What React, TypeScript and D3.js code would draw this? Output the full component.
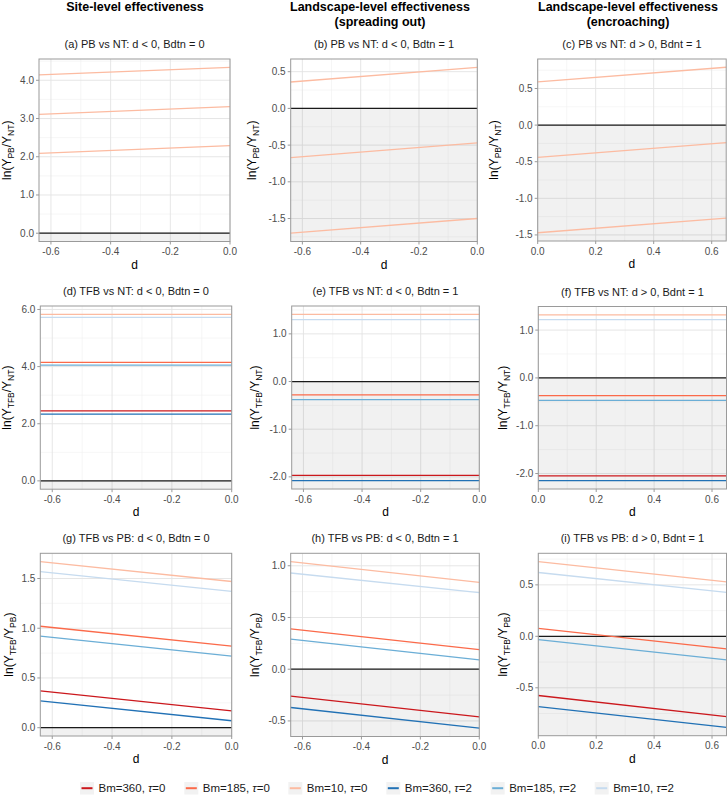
import React from "react";
import * as d3 from "d3";

// legend series (Bm, tau)
const seriesNames = ["Bm=360", "Bm=185", "Bm=10", "Bm=360", "Bm=185", "Bm=10"];
const seriesTau = ["0", "0", "0", "2", "2", "2"];
const seriesColors = ["#CB181D", "#FB6A4A", "#FCBBA1", "#2171B5", "#6BAED6", "#C6DBEF"];

// d ranges
const dNeg = [-0.64, 0];
const dPos = [0, 0.65];
const dNegTicks = [-0.6, -0.4, -0.2, 0];
const dPosTicks = [0, 0.2, 0.4, 0.6];

// each line: series index, value at left end of d, value at right end of d
const panelA = [
  { s: 2, y0: 2.09, y1: 2.29 },
  { s: 2, y0: 3.11, y1: 3.31 },
  { s: 2, y0: 4.14, y1: 4.34 },
];
const panelB = [
  { s: 2, y0: -1.7, y1: -1.5 },
  { s: 2, y0: -0.67, y1: -0.47 },
  { s: 2, y0: 0.36, y1: 0.56 },
];
const panelC = [
  { s: 2, y0: -1.47, y1: -1.27 },
  { s: 2, y0: -0.44, y1: -0.24 },
  { s: 2, y0: 0.59, y1: 0.79 },
];
const panelD = [
  { s: 0, y0: 2.45, y1: 2.45 },
  { s: 1, y0: 4.15, y1: 4.15 },
  { s: 2, y0: 5.83, y1: 5.83 },
  { s: 3, y0: 2.34, y1: 2.34 },
  { s: 4, y0: 4.05, y1: 4.05 },
  { s: 5, y0: 5.72, y1: 5.72 },
];
const panelE = [
  { s: 0, y0: -1.97, y1: -1.97 },
  { s: 1, y0: -0.28, y1: -0.28 },
  { s: 2, y0: 1.41, y1: 1.41 },
  { s: 3, y0: -2.08, y1: -2.08 },
  { s: 4, y0: -0.38, y1: -0.38 },
  { s: 5, y0: 1.3, y1: 1.3 },
];
const panelF = [
  { s: 0, y0: -2.05, y1: -2.05 },
  { s: 1, y0: -0.37, y1: -0.37 },
  { s: 2, y0: 1.32, y1: 1.32 },
  { s: 3, y0: -2.15, y1: -2.15 },
  { s: 4, y0: -0.47, y1: -0.47 },
  { s: 5, y0: 1.22, y1: 1.22 },
];
const panelG = [
  { s: 0, y0: 0.37, y1: 0.17 },
  { s: 1, y0: 1.02, y1: 0.82 },
  { s: 2, y0: 1.67, y1: 1.47 },
  { s: 3, y0: 0.27, y1: 0.07 },
  { s: 4, y0: 0.92, y1: 0.72 },
  { s: 5, y0: 1.57, y1: 1.37 },
];
const panelH = [
  { s: 0, y0: -0.26, y1: -0.46 },
  { s: 1, y0: 0.39, y1: 0.19 },
  { s: 2, y0: 1.04, y1: 0.84 },
  { s: 3, y0: -0.37, y1: -0.57 },
  { s: 4, y0: 0.29, y1: 0.09 },
  { s: 5, y0: 0.93, y1: 0.74 },
];
const panelI = [
  { s: 0, y0: -0.575, y1: -0.78 },
  { s: 1, y0: 0.077, y1: -0.123 },
  { s: 2, y0: 0.726, y1: 0.529 },
  { s: 3, y0: -0.684, y1: -0.885 },
  { s: 4, y0: -0.032, y1: -0.229 },
  { s: 5, y0: 0.62, y1: 0.426 },
];

const colTitles = [["Site-level effectiveness"], ["Landscape-level effectiveness", "(spreading out)"], ["Landscape-level effectiveness", "(encroaching)"]];
const colTitleX = [135, 380, 628];

const font = "'Liberation Sans', Arial, sans-serif";

type Line = { s: number; y0: number; y1: number };
type Panel = {
  title: string;
  lines: Line[];
  d: number[];
  dTicks: number[];
  yTicks: number[];
  yNum: string;
  yDen: string;
  box: number[]; // left, top, right, bottom
  titleX: number;
};

const panels: Panel[] = [
  { title: "(a) PB vs NT: d < 0, Bdtn = 0", lines: panelA, d: dNeg, dTicks: dNegTicks, yTicks: [0, 1, 2, 3, 4], yNum: "PB", yDen: "NT", box: [39, 59, 230, 241.5], titleX: 7 },
  { title: "(b) PB vs NT: d < 0, Bdtn = 1", lines: panelB, d: dNeg, dTicks: dNegTicks, yTicks: [-1.5, -1, -0.5, 0, 0.5], yNum: "PB", yDen: "NT", box: [290.7, 59, 477.3, 241.5], titleX: 252 },
  { title: "(c) PB vs NT: d > 0, Bdnt = 1", lines: panelC, d: dPos, dTicks: dPosTicks, yTicks: [-1.5, -1, -0.5, 0, 0.5], yNum: "PB", yDen: "NT", box: [537.7, 59, 726.2, 241], titleX: 494 },
  { title: "(d) TFB vs NT: d < 0, Bdtn = 0", lines: panelD, d: dNeg, dTicks: dNegTicks, yTicks: [0, 2, 4, 6], yNum: "TFB", yDen: "NT", box: [40.3, 306, 231.7, 489.2], titleX: 7 },
  { title: "(e) TFB vs NT: d < 0, Bdtn = 1", lines: panelE, d: dNeg, dTicks: dNegTicks, yTicks: [-2, -1, 0, 1], yNum: "TFB", yDen: "NT", box: [291.7, 306, 479.3, 489], titleX: 255 },
  { title: "(f) TFB vs NT: d > 0, Bdnt = 1", lines: panelF, d: dPos, dTicks: dPosTicks, yTicks: [-2, -1, 0, 1], yNum: "TFB", yDen: "NT", box: [538.3, 306.5, 726.5, 489], titleX: 503 },
  { title: "(g) TFB vs PB: d < 0, Bdtn = 0", lines: panelG, d: dNeg, dTicks: dNegTicks, yTicks: [0, 0.5, 1, 1.5], yNum: "TFB", yDen: "PB", box: [40.3, 553.3, 231.7, 736], titleX: 8.5 },
  { title: "(h) TFB vs PB: d < 0, Bdtn = 1", lines: panelH, d: dNeg, dTicks: dNegTicks, yTicks: [-0.5, 0, 0.5, 1], yNum: "TFB", yDen: "PB", box: [290.7, 553.3, 479.3, 736.5], titleX: 255 },
  { title: "(i) TFB vs PB: d > 0, Bdnt = 1", lines: panelI, d: dPos, dTicks: dPosTicks, yTicks: [-0.5, 0, 0.5], yNum: "TFB", yDen: "PB", box: [538.3, 553.3, 726.5, 735.7], titleX: 503 },
];

const legendX = [80, 184.3, 288.3, 386.3, 490.7, 594.7];

const fmt = d3.format(".1f");
const fmtTick = (v: number) => fmt(v).replace("−", "-");

function minorBetween(ticks: number[], lo: number, hi: number) {
  const step = ticks[1] - ticks[0];
  const out: number[] = [];
  for (let i = -1; i < ticks.length; i++) {
    const v = ticks[0] + step * i + step / 2;
    if (v > lo && v < hi) out.push(v);
  }
  return out;
}

function PanelView({ p }: { p: Panel }) {
  const [left, top, right, bottom] = p.box;
  const ys = p.lines.flatMap((l) => [l.y0, l.y1]).concat([0]);
  const [lo, hi] = d3.extent(ys) as [number, number];
  const pad = (hi - lo) * 0.05;
  const x = d3.scaleLinear().domain(p.d).range([left, right]);
  const y = d3.scaleLinear().domain([lo - pad, hi + pad]).range([bottom, top]);
  const [yLo, yHi] = y.domain();
  const xMinor = minorBetween(p.dTicks, p.d[0], p.d[1]);
  const yMinor = minorBetween(p.yTicks, yLo, yHi);
  const line = d3
    .line<[number, number]>()
    .x((d) => x(d[0]))
    .y((d) => y(d[1]));
  const cy = (top + bottom) / 2;
  return (
    <g>
      <text x={(left + right) / 2} y={top - 11} textAnchor="middle" fontSize={11} fill="#1a1a1a">
        {p.title}
      </text>
      {/* grid */}
      {xMinor.map((v) => (
        <line key={"xm" + v} x1={x(v)} x2={x(v)} y1={top} y2={bottom} stroke="#F0F0F0" strokeWidth={0.6} />
      ))}
      {yMinor.map((v) => (
        <line key={"ym" + v} x1={left} x2={right} y1={y(v)} y2={y(v)} stroke="#F0F0F0" strokeWidth={0.6} />
      ))}
      {p.dTicks.map((v) => (
        <line key={"xg" + v} x1={x(v)} x2={x(v)} y1={top} y2={bottom} stroke="#E3E3E3" strokeWidth={0.9} />
      ))}
      {p.yTicks.map((v) => (
        <line key={"yg" + v} x1={left} x2={right} y1={y(v)} y2={y(v)} stroke="#E3E3E3" strokeWidth={0.9} />
      ))}
      {/* shaded negative region */}
      <rect x={left} y={y(0)} width={right - left} height={bottom - y(0)} fill="#000" fillOpacity={0.055} />
      <line x1={left} x2={right} y1={y(0)} y2={y(0)} stroke="#1a1a1a" strokeWidth={1.2} />
      {p.lines.map((l, i) => (
        <path
          key={i}
          d={line([
            [p.d[0], l.y0],
            [p.d[1], l.y1],
          ]) as string}
          fill="none"
          stroke={seriesColors[l.s]}
          strokeWidth={1.3}
        />
      ))}
      <rect x={left} y={top} width={right - left} height={bottom - top} fill="none" stroke="#9A9A9A" strokeWidth={1} />
      {/* axes */}
      {p.dTicks.map((v) => (
        <g key={"xt" + v}>
          <line x1={x(v)} x2={x(v)} y1={bottom} y2={bottom + 3} stroke="#9A9A9A" />
          <text x={x(v)} y={bottom + 13.5} textAnchor="middle" fontSize={10} fill="#4D4D4D">
            {fmtTick(v)}
          </text>
        </g>
      ))}
      {p.yTicks.map((v) => (
        <g key={"yt" + v}>
          <line x1={left - 3} x2={left} y1={y(v)} y2={y(v)} stroke="#9A9A9A" />
          <text x={left - 5} y={y(v)} dy="0.35em" textAnchor="end" fontSize={10} fill="#4D4D4D">
            {fmtTick(v)}
          </text>
        </g>
      ))}
      <text x={(left + right) / 2} y={bottom + 27} textAnchor="middle" fontSize={12} fill="#000">
        d
      </text>
      <text transform={`translate(${p.titleX + 4},${cy}) rotate(-90)`} textAnchor="middle" fontSize={12} fill="#000">
        ln(Y
        <tspan fontSize={8.5} dy={3}>
          {p.yNum}
        </tspan>
        <tspan dy={-3}>/Y</tspan>
        <tspan fontSize={8.5} dy={3}>
          {p.yDen}
        </tspan>
        <tspan dy={-3}>)</tspan>
      </text>
    </g>
  );
}

export default function App() {
  return (
    <svg
      width={727}
      height={799}
      style={{ position: "absolute", left: 0, top: 0, background: "#fff", fontFamily: font }}
    >
      {colTitles.map((lines, c) =>
        lines.map((t, k) => (
          <text key={c + "-" + k} x={colTitleX[c]} y={10.5 + k * 15} textAnchor="middle" fontSize={12.5} fontWeight="bold" fill="#000">
            {t}
          </text>
        ))
      )}
      {panels.map((p, i) => (
        <PanelView key={i} p={p} />
      ))}
      {seriesNames.map((n, i) => (
        <g key={"lg" + i}>
          <rect x={legendX[i]} y={782} width={14} height={12.5} fill="#F2F2F2" />
          <line x1={legendX[i] + 1.5} x2={legendX[i] + 12.5} y1={788.2} y2={788.2} stroke={seriesColors[i]} strokeWidth={2} />
          <text x={legendX[i] + 18.5} y={788.2} dy="0.35em" fontSize={11.5} fill="#1a1a1a">
            {n}, <tspan fontStyle="italic">τ</tspan>={seriesTau[i]}
          </text>
        </g>
      ))}
    </svg>
  );
}
